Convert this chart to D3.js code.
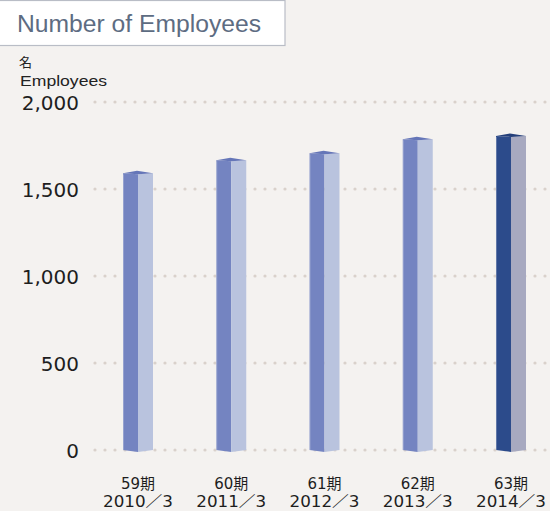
<!DOCTYPE html>
<meta charset="utf-8">
<script src="https://d3js.org/d3.v7.min.js"></script>
<style>
    body { margin: 0; background: #f4f2f0; }
    svg { display: block; }
</style>

<body>
    <div id="chart"></div>
</body>
<script>

    // data
    var periods = ["59期", "60期", "61期", "62期", "63期"];
    var years = ["2010／3", "2011／3", "2012／3", "2013／3", "2014／3"];
    var employees = [1590, 1665, 1705, 1786, 1805];
    var yTicks = [0, 500, 1000, 1500, 2000];

    var width = 550,
        height = 511;

    var svg = d3.select("#chart")
        .append("svg")
        .attr("width", width)
        .attr("height", height)

    svg.append("rect")
        .attr("width", width)
        .attr("height", height)
        .attr("fill", "#f4f2f0")

    // title box
    svg.append("rect")
        .attr("x", -1).attr("y", 0.5)
        .attr("width", 286).attr("height", 45)
        .attr("fill", "white")
        .attr("stroke", "#b9bdc6")
        .attr("stroke-width", 1.2)
    svg.append("text")
        .attr("x", 17).attr("y", 32)
        .attr("font-family", "Liberation Sans, Arial, sans-serif")
        .attr("font-size", 23)
        .attr("textLength", 244)
        .attr("lengthAdjust", "spacingAndGlyphs")
        .attr("fill", "#5d6c82")
        .text("Number of Employees")

    svg.append("text")
        .attr("x", 19).attr("y", 67)
        .attr("font-family", "Noto Sans CJK JP")
        .attr("font-size", 13)
        .attr("fill", "#222")
        .text("名")
    svg.append("text")
        .attr("x", 20).attr("y", 86)
        .attr("font-family", "Liberation Sans, Arial, sans-serif")
        .attr("font-size", 15.5)
        .attr("textLength", 87)
        .attr("lengthAdjust", "spacingAndGlyphs")
        .attr("fill", "#222")
        .text("Employees")

    // scales
    var y = d3.scaleLinear()
        .domain([0, 2000])
        .range([450, 102])

    var x = d3.scalePoint()
        .domain(periods)
        .range([138, 511])

    // dotted grid lines
    var grid = svg.append("g")
    yTicks.forEach(function (t) {
        grid.selectAll(null)
            .data(d3.range(95, 550, 10))
            .enter()
            .append("circle")
            .attr("cx", function (d) { return d })
            .attr("cy", y(t))
            .attr("r", 1.6)
            .attr("fill", "#d9d1cb")
    })

    // y axis labels
    var yAxis = svg.append("g")
        .attr("transform", "translate(79,0)")
        .call(d3.axisLeft(y).tickValues(yTicks).tickSize(0).tickPadding(0).tickFormat(d3.format(",")))
    yAxis.select(".domain").remove()
    yAxis.selectAll("text")
        .attr("font-family", "DejaVu Sans, sans-serif")
        .attr("font-size", 20)
        .attr("fill", "#1e1e1e")
        .attr("dy", "0.36em")

    // bars (pseudo 3d)
    var half = 15;
    var colors = [
        { left: "#7484c1", right: "#b9c3de", top: "#6576b8" },
        { left: "#2c4b8b", right: "#a7a9c0", top: "#243f7a" }
    ]

    var bars = svg.selectAll(".bar")
        .data(employees.map(function (v, i) { return { p: periods[i], v: v, last: i == employees.length - 1 } }))
        .enter()
        .append("g")
        .attr("class", "bar")

    function pts(a) { return a.map(function (p) { return p.join(",") }).join(" ") }

    bars.append("polygon")
        .attr("points", function (d) {
            var c = x(d.p), t = y(d.v);
            return pts([[c - half, t], [c, t + 1], [c, y(0) + 2], [c - half, y(0)]])
        })
        .attr("fill", function (d) { return colors[d.last ? 1 : 0].left })
    bars.append("polygon")
        .attr("points", function (d) {
            var c = x(d.p), t = y(d.v);
            return pts([[c, t + 1], [c + half, t], [c + half, y(0)], [c, y(0) + 2]])
        })
        .attr("fill", function (d) { return colors[d.last ? 1 : 0].right })
    bars.append("polygon")
        .attr("points", function (d) {
            var c = x(d.p), t = y(d.v);
            return pts([[c - half, t], [c - 1, t - 2.5], [c + half, t], [c, t + 1]])
        })
        .attr("fill", function (d) { return colors[d.last ? 1 : 0].top })
    // thin light edge lines
    bars.append("line")
        .attr("x1", function (d) { return x(d.p) - half + 0.5 })
        .attr("x2", function (d) { return x(d.p) - half + 0.5 })
        .attr("y1", function (d) { return y(d.v) + 1 })
        .attr("y2", y(0))
        .attr("stroke", "#ffffff")
        .attr("stroke-opacity", 0.25)

    // x labels
    var xl = svg.append("g")
    xl.selectAll(".per")
        .data(periods)
        .enter()
        .append("text")
        .attr("x", function (d) { return x(d) })
        .attr("y", 489)
        .attr("text-anchor", "middle")
        .attr("font-family", "DejaVu Sans, Noto Sans CJK JP")
        .attr("font-size", 15)
        .attr("fill", "#1e1e1e")
        .text(function (d) { return d })
    xl.selectAll(".yr")
        .data(years)
        .enter()
        .append("text")
        .attr("x", function (d, i) { return x(periods[i]) })
        .attr("y", 507)
        .attr("text-anchor", "middle")
        .attr("font-family", "DejaVu Sans, Noto Sans CJK JP")
        .attr("font-size", 15)
        .attr("textLength", 70)
        .attr("lengthAdjust", "spacingAndGlyphs")
        .attr("fill", "#1e1e1e")
        .text(function (d) { return d })
</script>
